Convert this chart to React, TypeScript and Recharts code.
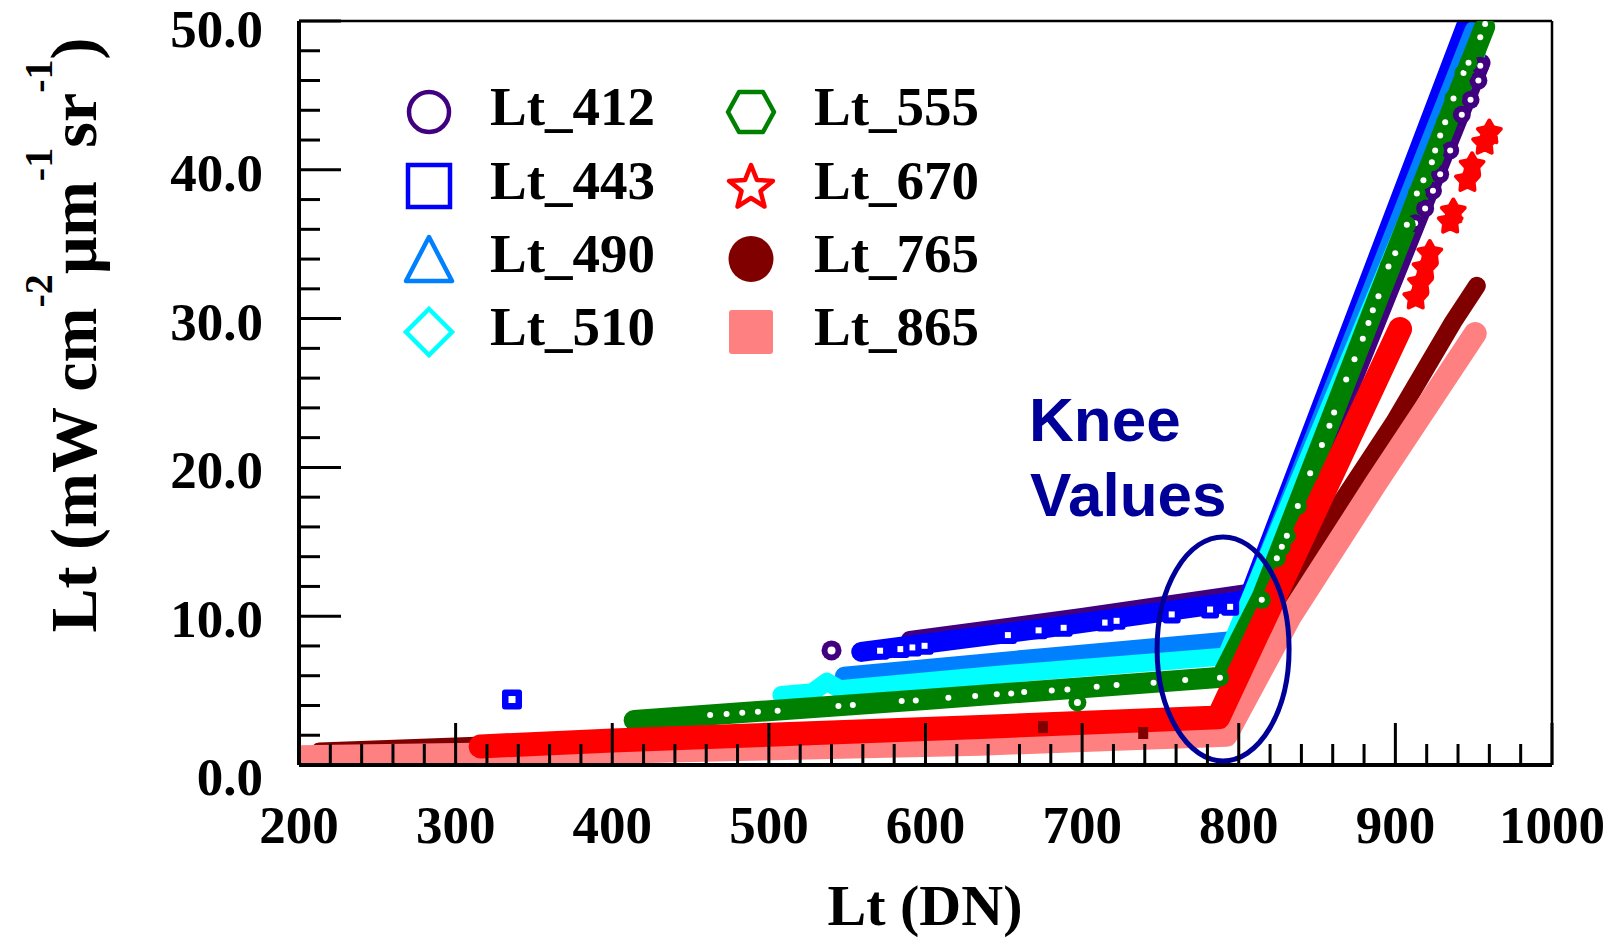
import React from "react";
import {
  ComposedChart,
  Line,
  Scatter,
  XAxis,
  YAxis,
  ReferenceLine,
  Customized,
} from "recharts";

interface Pt {
  x: number;
  y: number;
}

const xTicks = [
  200, 220, 240, 260, 280, 300, 320, 340, 360, 380, 400, 420, 440, 460, 480,
  500, 520, 540, 560, 580, 600, 620, 640, 660, 680, 700, 720, 740, 760, 780,
  800, 820, 840, 860, 880, 900, 920, 940, 960, 980, 1000,
];
const yTicks = [
  0, 2, 4, 6, 8, 10, 12, 14, 16, 18, 20, 22, 24, 26, 28, 30, 32, 34, 36, 38,
  40, 42, 44, 46, 48, 50,
];

// bands of densely packed markers
const lt412: Pt[] = [
  { x: 590, y: 8.4 }, { x: 700, y: 9.95 }, { x: 808, y: 11.6 },
  { x: 850, y: 19.8 }, { x: 955, y: 47.2 },
];
const lt443: Pt[] = [
  { x: 559, y: 7.6 }, { x: 680, y: 9.25 }, { x: 806, y: 11.1 },
  { x: 946, y: 49.9 },
];
const lt490: Pt[] = [
  { x: 548, y: 6.0 }, { x: 680, y: 7.3 }, { x: 797, y: 8.4 },
  { x: 950, y: 49.4 },
];
const lt510: Pt[] = [
  { x: 508, y: 4.7 }, { x: 528, y: 4.9 }, { x: 537, y: 5.6 }, { x: 545, y: 5.1 },
  { x: 650, y: 6.1 }, { x: 792, y: 7.3 }, { x: 952, y: 47.9 },
];
const lt555: Pt[] = [
  { x: 414, y: 3.0 }, { x: 600, y: 4.4 }, { x: 789, y: 5.9 },
  { x: 815, y: 11.3 }, { x: 889, y: 31.4 }, { x: 957, y: 49.6 },
];
const lt670: Pt[] = [
  { x: 316, y: 1.25 }, { x: 400, y: 1.65 }, { x: 635, y: 2.55 },
  { x: 787, y: 3.2 }, { x: 903, y: 29.3 },
];
const lt765: Pt[] = [
  { x: 213, y: 0.9 }, { x: 313, y: 1.3 }, { x: 560, y: 1.8 }, { x: 792, y: 2.6 },
  { x: 831, y: 11.0 }, { x: 852, y: 15.5 }, { x: 899, y: 23.0 },
  { x: 937, y: 29.8 }, { x: 952, y: 32.2 },
];
const lt865: Pt[] = [
  { x: 200, y: 0.55 }, { x: 400, y: 0.85 }, { x: 635, y: 1.4 },
  { x: 792, y: 2.0 }, { x: 833, y: 10.0 }, { x: 888, y: 19.0 },
  { x: 951, y: 29.0 },
];

// single markers that stand out from the bands
const lt555Dots: Pt[] = [
  { x: 462.5, y: 3.36 }, { x: 473, y: 3.42 }, { x: 483, y: 3.51 }, { x: 493, y: 3.58 },
  { x: 505.6, y: 3.65 }, { x: 544.4, y: 3.96 }, { x: 553.6, y: 4.03 },
  { x: 584.8, y: 4.3 }, { x: 593.8, y: 4.34 }, { x: 614.6, y: 4.52 },
  { x: 631.7, y: 4.63 }, { x: 645.5, y: 4.75 }, { x: 654.7, y: 4.81 },
  { x: 663, y: 4.9 }, { x: 680.6, y: 5.01 }, { x: 690.6, y: 5.08 },
  { x: 709.3, y: 5.26 }, { x: 722, y: 5.37 }, { x: 745.6, y: 5.53 },
  { x: 765.8, y: 5.71 }, { x: 788, y: 5.87 },
  { x: 814.7, y: 11.1 }, { x: 824.3, y: 13.9 }, { x: 827.5, y: 14.66 },
  { x: 830.7, y: 15.4 }, { x: 837.7, y: 17.4 }, { x: 845.6, y: 19.6 },
  { x: 853.1, y: 21.5 }, { x: 857.9, y: 22.8 }, { x: 860.9, y: 23.69 },
  { x: 868.6, y: 25.9 }, { x: 873.9, y: 27.27 }, { x: 879.2, y: 28.65 },
  { x: 882.8, y: 29.7 }, { x: 885.6, y: 30.56 }, { x: 889.2, y: 31.5 },
  { x: 895.6, y: 33.5 }, { x: 899.9, y: 34.4 }, { x: 907.3, y: 36.3 },
  { x: 913.7, y: 38.4 }, { x: 917.9, y: 39.3 }, { x: 923.3, y: 40.5 },
  { x: 925.4, y: 41.3 }, { x: 928.6, y: 42.3 }, { x: 931.8, y: 43.2 },
  { x: 937.1, y: 44.8 }, { x: 943.5, y: 46.5 }, { x: 946.7, y: 47.2 },
  { x: 954.2, y: 48.9 }, { x: 957.3, y: 49.8 },
];
const lt412Dots: Pt[] = [
  { x: 912.6, y: 36.4 }, { x: 919, y: 37.4 }, { x: 924, y: 38.6 },
  { x: 928.6, y: 39.7 }, { x: 935, y: 41.3 }, { x: 942.4, y: 43.7 },
  { x: 948, y: 44.7 }, { x: 953, y: 46.0 }, { x: 954.2, y: 47.0 },
];
const lt443Dots: Pt[] = [
  { x: 571, y: 7.68 }, { x: 584, y: 7.79 }, { x: 591.7, y: 7.9 }, { x: 599.4, y: 8.01 },
  { x: 652.6, y: 8.73 }, { x: 672.2, y: 9.05 }, { x: 688.2, y: 9.22 },
  { x: 714.7, y: 9.57 }, { x: 722, y: 9.69 }, { x: 757.2, y: 10.12 },
  { x: 781.7, y: 10.45 }, { x: 794.5, y: 10.63 },
];
const lt670Stars: Pt[] = [
  { x: 913, y: 31.4 }, { x: 916, y: 32.4 }, { x: 919, y: 33.4 }, { x: 922, y: 34.4 },
  { x: 935, y: 36.5 }, { x: 937, y: 37.2 },
  { x: 946, y: 39.3 }, { x: 949, y: 40.3 },
  { x: 957, y: 41.8 }, { x: 960, y: 42.5 },
];
const lt765Marks: Pt[] = [{ x: 675, y: 2.55 }, { x: 739, y: 2.15 }];
const lt412Outlier: Pt[] = [{ x: 540, y: 7.7 }];
const lt443Outlier: Pt[] = [{ x: 336, y: 4.4 }];
const lt555Outlier: Pt[] = [{ x: 697, y: 4.2 }];
const kneeCenter: Pt[] = [{ x: 790, y: 7.8 }];

const names = ["Lt_412", "Lt_443", "Lt_490", "Lt_510", "Lt_555", "Lt_670", "Lt_765", "Lt_865"];
const colors = ["#400080", "#0000FF", "#0080FF", "#00FFFF", "#008000", "#FF0000", "#800000", "#FF8080"];

const serif = "'Liberation Serif', 'Times New Roman', serif";
const sans = "'Liberation Sans', Arial, sans-serif";
const navy = "#000099";

const XTick = (props: any) => {
  const { x, y, payload } = props;
  const major = payload.value % 100 === 0;
  return (
    <g>
      <line x1={x} x2={x} y1={y} y2={y - (major ? 42 : 21)} stroke="#000" strokeWidth={3} />
      {major && (
        <text x={x} y={y + 78} textAnchor="middle" fontFamily={serif} fontWeight="bold" fontSize={53} fill="#000">
          {payload.value}
        </text>
      )}
    </g>
  );
};

const YTick = (props: any) => {
  const { x, y, payload } = props;
  const major = payload.value % 10 === 0;
  const dy = payload.value === 0 ? 30 : payload.value === 50 ? 26 : 21;
  return (
    <g>
      <line x1={x} x2={x + (major ? 42 : 21)} y1={y} y2={y} stroke="#000" strokeWidth={3} />
      {major && (
        <text x={x - 36} y={y + dy} textAnchor="end" fontFamily={serif} fontWeight="bold" fontSize={53} fill="#000">
          {payload.value.toFixed(1)}
        </text>
      )}
    </g>
  );
};

const ring = (color: string, rOut: number, rIn: number) => (p: any) => (
  <g>
    <circle cx={p.cx} cy={p.cy} r={rOut} fill={color} />
    <circle cx={p.cx} cy={p.cy} r={rIn} fill="#fff" />
  </g>
);

const hollowSquare = (color: string, s: number, inner: number) => (p: any) => (
  <g>
    <rect x={p.cx - s / 2} y={p.cy - s / 2} width={s} height={s} rx={3} fill={color} />
    <rect x={p.cx - inner / 2} y={p.cy - inner / 2} width={inner} height={inner} fill="#fff" />
  </g>
);

const starPath = (cx: number, cy: number, ro: number, ri: number) => {
  let d = "";
  for (let i = 0; i < 10; i++) {
    const r = i % 2 === 0 ? ro : ri;
    const a = -Math.PI / 2 + (i * Math.PI) / 5;
    d += (i === 0 ? "M" : "L") + (cx + r * Math.cos(a)).toFixed(1) + "," + (cy + r * Math.sin(a)).toFixed(1);
  }
  return d + "Z";
};

const starShape = (p: any) => (
  <path d={starPath(p.cx, p.cy, 12, 6.5)} fill="#FF0000" stroke="#FF0000" strokeWidth={4} strokeLinejoin="round" />
);

const markShape = (p: any) => <rect x={p.cx - 5} y={p.cy - 6} width={10} height={12} fill="#800000" />;

const kneeShape = (p: any) => (
  <ellipse cx={p.cx} cy={p.cy} rx={66} ry={112} fill="none" stroke={navy} strokeWidth={5} />
);

const LegendSymbol = ({ i, cx, cy }: { i: number; cx: number; cy: number }) => {
  const c = colors[i];
  const sw = 4.5;
  switch (i) {
    case 0:
      return <circle cx={cx} cy={cy} r={20} fill="none" stroke={c} strokeWidth={sw} />;
    case 1:
      return <rect x={cx - 21} y={cy - 21} width={42} height={42} fill="none" stroke={c} strokeWidth={sw} />;
    case 2:
      return (
        <polygon
          points={`${cx},${cy - 22} ${cx + 23},${cy + 22} ${cx - 23},${cy + 22}`}
          fill="none" stroke={c} strokeWidth={sw} strokeLinejoin="round"
        />
      );
    case 3:
      return (
        <polygon
          points={`${cx},${cy - 23} ${cx + 23},${cy} ${cx},${cy + 23} ${cx - 23},${cy}`}
          fill="none" stroke={c} strokeWidth={sw}
        />
      );
    case 4:
      return (
        <polygon
          points={`${cx - 23},${cy} ${cx - 12},${cy - 20} ${cx + 12},${cy - 20} ${cx + 23},${cy} ${cx + 12},${cy + 20} ${cx - 12},${cy + 20}`}
          fill="none" stroke={c} strokeWidth={sw} strokeLinejoin="round"
        />
      );
    case 5:
      return <path d={starPath(cx, cy + 2, 23, 10)} fill="none" stroke={c} strokeWidth={sw} strokeLinejoin="round" />;
    case 6:
      return <ellipse cx={cx} cy={cy} rx={22.5} ry={23} fill={c} />;
    default:
      return <rect x={cx - 22} y={cy - 22} width={44} height={44} rx={3} fill={c} />;
  }
};

// chart svg sits at page (8, 0): y here equals page y
const Overlay = () => {
  const rowY = [112, 186, 259, 332];
  return (
    <g>
      {names.map((n, i) => {
        const col = i < 4 ? 0 : 1;
        const row = i % 4;
        const sx = col === 0 ? 421 : 743;
        const tx = col === 0 ? 482 : 806;
        return (
          <g key={n}>
            <LegendSymbol i={i} cx={sx} cy={rowY[row]} />
            <text x={tx} y={rowY[row] + 13} fontFamily={serif} fontWeight="bold" fontSize={55} fill="#000">
              {n}
            </text>
          </g>
        );
      })}
      <text x={1021} y={441} fontFamily={sans} fontWeight="bold" fontSize={62} fill={navy}>Knee</text>
      <text x={1022} y={516} fontFamily={sans} fontWeight="bold" fontSize={62} fill={navy}>Values</text>
      <text x={917} y={925} textAnchor="middle" fontFamily={serif} fontWeight="bold" fontSize={58} fill="#000">
        Lt (DN)
      </text>
      <text
        x={88} y={335} transform="rotate(-90 88 335)" textAnchor="middle"
        fontFamily={serif} fontWeight="bold" fontSize={66} fill="#000"
      >
        Lt (mW cm
        <tspan dy={-44} fontSize={40}>-2</tspan>
        <tspan dy={44}>µm</tspan>
        <tspan dy={-44} fontSize={40}>-1</tspan>
        <tspan dy={44}>sr</tspan>
        <tspan dy={-44} fontSize={40}>-1</tspan>
        <tspan dy={44}>)</tspan>
      </text>
    </g>
  );
};

const bands: { data: Pt[]; color: string; width: number }[] = [
  { data: lt412, color: colors[0], width: 18 },
  { data: lt443, color: colors[1], width: 20 },
  { data: lt490, color: colors[2], width: 18 },
  { data: lt510, color: colors[3], width: 18 },
  { data: lt555, color: colors[4], width: 21 },
  { data: lt765, color: colors[6], width: 18 },
  { data: lt865, color: colors[7], width: 23 },
  { data: lt670, color: colors[5], width: 24 },
];

export default function App() {
  return (
    <div style={{ position: "absolute", top: 0, left: 8 }}>
      <ComposedChart width={1603} height={944} margin={{ top: 21, right: 59, bottom: 0, left: 0 }}>
        {bands.map((b, i) => (
          <Line
            key={i}
            data={b.data}
            dataKey="y"
            type="linear"
            stroke={b.color}
            strokeWidth={b.width}
            strokeLinecap="round"
            strokeLinejoin="round"
            dot={false}
            activeDot={false}
            isAnimationActive={false}
          />
        ))}
        <Scatter data={lt412Dots} dataKey="y" shape={ring(colors[0], 9, 3)} isAnimationActive={false} />
        <Scatter data={lt443Dots} dataKey="y" shape={hollowSquare(colors[1], 18, 6)} isAnimationActive={false} />
        <Scatter data={lt555Dots} dataKey="y" shape={ring(colors[4], 9, 3)} isAnimationActive={false} />
        <Scatter data={lt670Stars} dataKey="y" shape={starShape} isAnimationActive={false} />
        <Scatter data={lt765Marks} dataKey="y" shape={markShape} isAnimationActive={false} />
        <Scatter data={lt412Outlier} dataKey="y" shape={ring(colors[0], 10, 4)} isAnimationActive={false} />
        <Scatter data={lt443Outlier} dataKey="y" shape={hollowSquare(colors[1], 20, 7)} isAnimationActive={false} />
        <Scatter data={lt555Outlier} dataKey="y" shape={ring(colors[4], 9, 3.5)} isAnimationActive={false} />
        <Scatter data={kneeCenter} dataKey="y" shape={kneeShape} isAnimationActive={false} />
        <XAxis
          type="number"
          dataKey="x"
          domain={[200, 1000]}
          ticks={xTicks}
          interval={0}
          allowDataOverflow
          height={179}
          tickSize={0}
          tickMargin={0}
          tick={<XTick />}
          axisLine={{ stroke: "#000", strokeWidth: 4 }}
        />
        <YAxis
          type="number"
          dataKey="y"
          domain={[0, 50]}
          ticks={yTicks}
          interval={0}
          allowDataOverflow
          width={291}
          tickSize={0}
          tickMargin={0}
          tick={<YTick />}
          axisLine={{ stroke: "#000", strokeWidth: 4 }}
        />
        <ReferenceLine y={50} stroke="#000" strokeWidth={2.5} />
        <ReferenceLine x={1000} stroke="#000" strokeWidth={2.5} />
        <Customized component={<Overlay />} />
      </ComposedChart>
    </div>
  );
}
